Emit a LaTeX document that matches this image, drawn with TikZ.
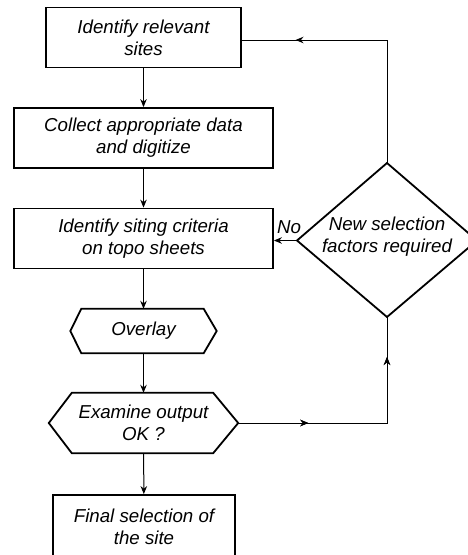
\documentclass[tikz,border=0pt]{standalone}
\usepackage{fontspec}
\setmainfont{Liberation Sans}
\usetikzlibrary{arrows.meta,calc,decorations.markings}
\begin{document}
\begin{tikzpicture}[x=1pt,y=-1pt,
  txt/.style={font=\fontsize{18.7}{22}\selectfont\itshape, align=center, inner sep=0pt},
  stepbox/.style={txt, draw, line width=1.8pt, rectangle, minimum height=60},
  hexbox/.style={txt, rectangle, draw=none},
  outline/.style={line width=1.8pt, line join=miter},
  flow/.style={line width=1pt, -{Stealth[length=8pt,width=6.5pt]}},
  line/.style={line width=1pt},
  midarrow/.style={postaction={decorate}, decoration={markings,
      mark=at position #1 with {\arrow{Stealth[length=8pt,width=6.5pt]}}}}
]
\useasboundingbox (0,0) rectangle (468,555);

% main column
\node[stepbox, minimum width=195] (identify) at (143.5,37.5) {Identify relevant\\sites};
\node[stepbox, minimum width=259] (collect)  at (143.5,138) {Collect appropriate data\\and digitize};
\node[stepbox, minimum width=259] (criteria) at (143.5,238.5) {Identify siting criteria\\on topo sheets};
\node[hexbox, minimum width=146, minimum height=44] (overlay) at (143.5,331) {Overlay};
\node[hexbox, minimum width=189, minimum height=60] (examine) at (143.5,423) {Examine output\\OK ?};
\node[stepbox, minimum width=182, minimum height=63] (final) at (144,526.5) {Final selection of\\the site};

% hexagon outlines
\draw[outline] (overlay.west) -- ($(overlay.north west)+(11,0)$) -- ($(overlay.north east)+(-13,0)$)
  -- (overlay.east) -- ($(overlay.south east)+(-13,0)$) -- ($(overlay.south west)+(11,0)$) -- cycle;
\draw[outline] (examine.west) -- ($(examine.north west)+(23,0)$) -- ($(examine.north east)+(-25,0)$)
  -- (examine.east) -- ($(examine.south east)+(-25,0)$) -- ($(examine.south west)+(23,0)$) -- cycle;

% decision diamond
\coordinate (dtop) at (387,163);
\coordinate (dleft) at (297,240.5);
\coordinate (dright) at (477,240.5);
\coordinate (dbot) at (387,317);
\draw[outline] (dtop) -- (dright) -- (dbot) -- (dleft) -- cycle;
\node[txt] (factors) at (387,237) {New selection\\factors required};
\node[txt] (no) at (289,227) {No};

% main flow
\draw[flow] (identify) -- (collect);
\draw[flow] (collect) -- (criteria);
\draw[flow] (criteria) -- (overlay);
\draw[flow] (overlay) -- (examine);
\draw[flow] (examine) -- (final);

% feedback loops
\draw[flow] (dleft) -- (criteria.east |- dleft);
\draw[line, midarrow=0.8] (dtop) |- ($(identify.east)+(0,2.5)$);
\draw[line, midarrow=0.275, midarrow=0.843] (examine.east) -| (dbot);
\end{tikzpicture}
\end{document}
